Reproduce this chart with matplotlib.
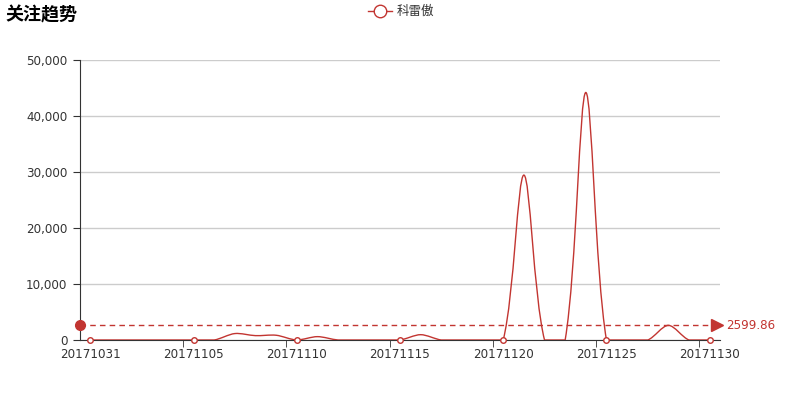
import numpy as np
import matplotlib
matplotlib.use("Agg")
import matplotlib.pyplot as plt
from matplotlib.path import Path
from matplotlib.patches import PathPatch
from matplotlib.ticker import FuncFormatter

plt.rcParams['font.family'] = ['DejaVu Sans', 'Noto Sans CJK SC']

dates = ["20171031"] + ["201711%02d" % d for d in range(1, 31)]
values = [0, 0, 0, 0, 0, 0, 0, 1150, 780, 850, 0, 600, 0, 0, 0, 0, 950, 0, 0, 0,
          0, 29450, 0, 0, 44200, 0, 0, 0, 2615.66, 0, 0]
series_name = "科雷傲"
title = "关注趋势"
yticks = [0, 10000, 20000, 30000, 40000, 50000]

color = "#c23531"
W, H = 800, 400
fig = plt.figure(figsize=(8, 4), dpi=100)
L, R, T, B = 80, 720, 60, 340
ax = fig.add_axes([L / W, 1 - B / H, (R - L) / W, (B - T) / H])
n = len(dates)
ax.set_xlim(-0.5, n - 0.5)
ax.set_ylim(0, 50000)

# pixel scale factors for ECharts-like smoothing
sx = (R - L) / n
sy = (B - T) / 50000.0
px = np.array([i * sx for i in range(n)])
py = np.array([v * sy for v in values])
smooth = 0.3
ymin, ymax = py.min(), py.max()
cps = []
for i in range(n):
    p = np.array([px[i], py[i]])
    if i == 0 or i == n - 1:
        cps.append((p.copy(), p.copy()))
        continue
    prev = np.array([px[i - 1], py[i - 1]])
    nxt = np.array([px[i + 1], py[i + 1]])
    v = nxt - prev
    d0 = np.hypot(*(p - prev))
    d1 = np.hypot(*(p - nxt))
    s = d0 + d1
    d0 /= s
    d1 /= s
    c0 = p - v * smooth * d0
    c1 = p + v * smooth * d1
    c0[1] = min(max(c0[1], ymin), ymax)
    c1[1] = min(max(c1[1], ymin), ymax)
    cps.append((c0, c1))

verts = [(px[0], py[0])]
codes = [Path.MOVETO]
for i in range(n - 1):
    verts += [tuple(cps[i][1]), tuple(cps[i + 1][0]), (px[i + 1], py[i + 1])]
    codes += [Path.CURVE4] * 3
verts = [(x / sx, y / sy) for x, y in verts]
ax.add_patch(PathPatch(Path(verts, codes), fill=False, edgecolor=color, lw=1.0, zorder=3))

# markers at labelled points
idx = list(range(0, n, 5))
ax.plot(idx, [values[i] for i in idx], 'o', ms=4, mfc='white', mec=color, mew=1, zorder=4,
        clip_on=False)

# average markline
avg = float(np.mean(values))
ax.plot([-0.5, n - 0.5 - 0.2], [avg, avg], ls=(0, (4, 3)), color=color, lw=1, zorder=2, clip_on=False)
ax.plot([-0.5], [avg], 'o', ms=7, color=color, clip_on=False, zorder=5)
ax.plot([n - 0.5 - 0.15], [avg], '>', ms=8, color=color, clip_on=False, zorder=5)
ax.text(n - 0.5 + 0.3, avg, "%.2f" % avg, color=color, fontsize=8.6, va='center', ha='left')

# axes styling
for s in ['top', 'right']:
    ax.spines[s].set_visible(False)
ax.spines['left'].set_color('#333333')
ax.spines['bottom'].set_color('#333333')
ax.set_yticks(yticks)
ax.yaxis.set_major_formatter(FuncFormatter(lambda v, p: "{:,}".format(int(v))))
ax.grid(axis='y', color='#cccccc', lw=1)
ax.set_axisbelow(True)
ax.set_xticks(idx)
ax.set_xticklabels([dates[i] for i in idx])
ax.tick_params(axis='x', length=0, labelsize=8.6, colors='#333333', pad=5.5)
ax.set_xticks([i - 0.5 for i in range(5, n, 5)], minor=True)
ax.tick_params(axis='x', which='minor', length=5, color='#333333')
ax.tick_params(axis='y', length=5, labelsize=8.6, colors='#333333', pad=4)

# title and legend
fig.text(5 / W, 1 - 15 / H, title, fontsize=13, fontweight='bold', va='center', ha='left',
         color='#000000', family=['Noto Sans CJK SC', 'DejaVu Sans'])
lx, ly = 368, 11
fig.add_artist(plt.Line2D([lx / W, (lx + 24) / W], [1 - ly / H, 1 - ly / H], color=color, lw=1))
fig.add_artist(plt.Line2D([(lx + 12) / W], [1 - ly / H], marker='o', ms=9, mfc='white', mec=color, mew=1))
fig.text((lx + 29) / W, 1 - ly / H, series_name, fontsize=9, va='center', ha='left', color='#333333',
         family=['Noto Sans CJK SC', 'DejaVu Sans'])

fig.savefig("out.png", dpi=100)
